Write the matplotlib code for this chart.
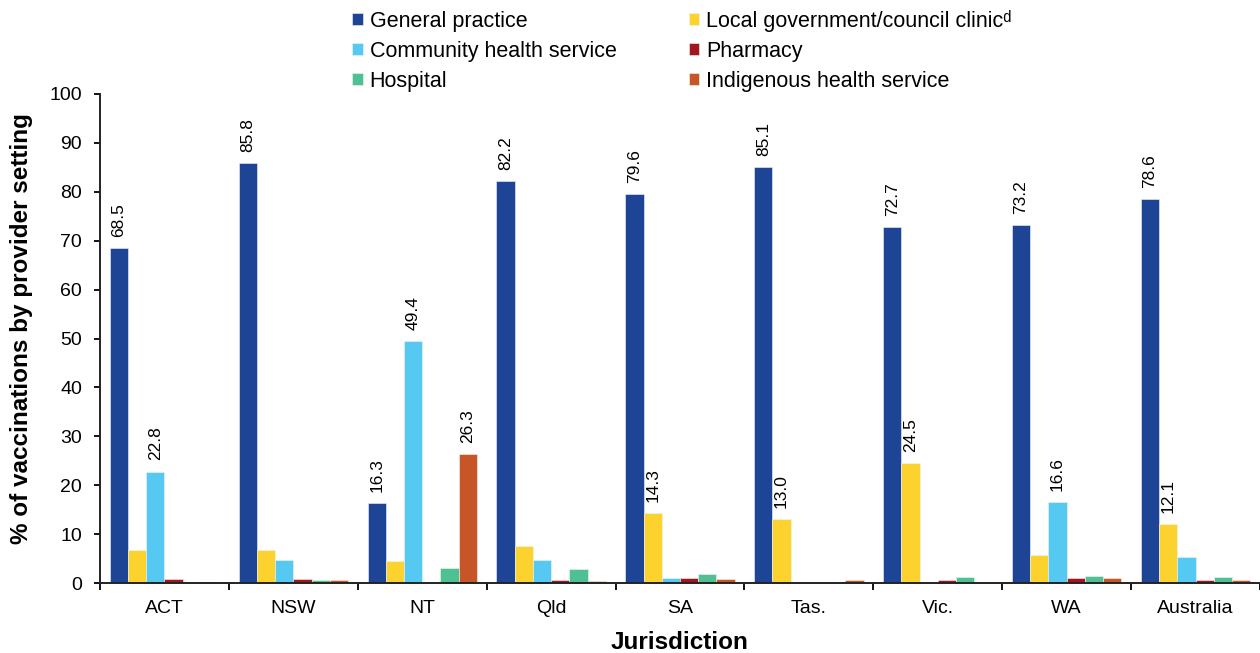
import matplotlib.pyplot as plt
import numpy as np

plt.rcParams['font.family'] = ['Liberation Sans', 'DejaVu Sans']

jurisdictions = ["ACT", "NSW", "NT", "Qld", "SA", "Tas.", "Vic.", "WA", "Australia"]

general_practice = [68.5, 85.8, 16.3, 82.2, 79.6, 85.1, 72.7, 73.2, 78.6]
local_government = [6.8, 6.7, 4.5, 7.5, 14.3, 13.0, 24.5, 5.7, 12.1]
community_health = [22.8, 4.7, 49.4, 4.7, 1.1, 0.0, 0.0, 16.6, 5.3]
pharmacy = [0.75, 0.75, 0.0, 0.7, 1.0, 0.0, 0.55, 1.0, 0.55]
hospital = [0.0, 0.7, 3.1, 2.8, 1.8, 0.2, 1.2, 1.5, 1.3]
indigenous = [0.2, 0.55, 26.3, 0.4, 0.8, 0.6, 0.0, 1.0, 0.55]

series_names = ["General practice", "Local government/council clinic\u1d48",
                "Community health service", "Pharmacy", "Hospital",
                "Indigenous health service"]
series_values = [general_practice, local_government, community_health,
                 pharmacy, hospital, indigenous]
colors = ["#1e4496", "#fcd22e", "#55c9f1", "#a0171d", "#4fbf94", "#c65628"]

# which bars carry a value label: (series index, jurisdiction index)
labelled = [(0, i) for i in range(9)] + [(2, 0), (2, 2), (2, 7), (5, 2),
                                         (1, 4), (1, 5), (1, 6), (1, 8)]

fig = plt.figure(figsize=(12.6, 6.53), dpi=100)
ax = fig.add_axes([100 / 1260, 70 / 653, 1 - 100 / 1260, 489 / 653])

x = np.arange(len(jurisdictions))
width = 0.1415
bars = []
for k, (name, vals, col) in enumerate(zip(series_names, series_values, colors)):
    b = ax.bar(x + (k - 2.5) * width, vals, width, color=col, label=name,
               edgecolor='#f4f4f4', linewidth=0.4)
    bars.append(b)

for k, i in labelled:
    v = series_values[k][i]
    ax.annotate(f"{v:.1f}", (x[i] + (k - 2.5) * width, v), xytext=(0, 8),
                textcoords='offset points', rotation=90, ha='center',
                va='bottom', fontsize=12.5)

ax.set_ylim(0, 100)
ax.set_xlim(-0.5, -0.5 + (1260 - 100.7) / 129.3)
ax.set_yticks(range(0, 101, 10))
ax.set_xticks(x)
ax.set_xticklabels(jurisdictions)
ax.set_xticks(np.arange(-0.5, 9, 1), minor=True)
ax.tick_params(axis='x', which='major', length=0, pad=12, labelsize=14)
ax.tick_params(axis='x', which='minor', length=5, width=1.3, direction='out')
ax.tick_params(axis='y', length=4, width=1.3, pad=9, labelsize=14)

for s in ['top', 'right']:
    ax.spines[s].set_visible(False)
for s in ['left', 'bottom']:
    ax.spines[s].set_linewidth(1.4)
    ax.spines[s].set_color('#222222')

ax.set_ylabel("% of vaccinations by provider setting", fontsize=17.5,
              fontweight='bold')
ax.yaxis.set_label_coords(-67 / 1160, 0.52)
ax.set_xlabel("Jurisdiction", fontsize=17.5, fontweight='bold', labelpad=10)

order = [0, 2, 4, 1, 3, 5]
handles = [bars[i] for i in order]
labels = [series_names[i] for i in order]
fig.legend(handles, labels, ncol=2, loc='upper left',
           bbox_to_anchor=(333 / 1260, 1.015), frameon=False, fontsize=15.5,
           handlelength=0.5, handleheight=0.5, handletextpad=0.3,
           columnspacing=3.35, labelspacing=0.42)

fig.savefig("out.png", dpi=100)
